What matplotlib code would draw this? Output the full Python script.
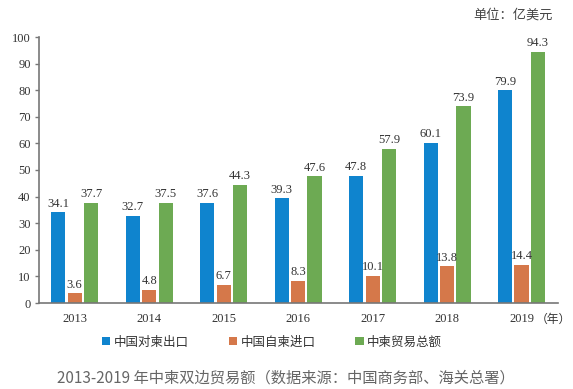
import matplotlib.pyplot as plt
import numpy as np

years = ['2013', '2014', '2015', '2016', '2017', '2018', '2019']
export_vals = [34.1, 32.7, 37.6, 39.3, 47.8, 60.1, 79.9]
import_vals = [3.6, 4.8, 6.7, 8.3, 10.1, 13.8, 14.4]
total_vals = [37.7, 37.5, 44.3, 47.6, 57.9, 73.9, 94.3]
series_names = ['中国对柬出口', '中国自柬进口', '中柬贸易总额']
colors = ['#0F84CE', '#D5784A', '#6DAA53']

cjk = ['Noto Sans CJK SC', 'DejaVu Sans']
serif = ['Liberation Serif', 'DejaVu Serif']

fig = plt.figure(figsize=(5.73, 3.89), dpi=100)
ax = fig.add_axes([39 / 573, 1 - 303 / 389, (558 - 39) / 573, (303 - 37) / 389])

x = np.arange(len(years))
width = 0.19
step = 0.22
bars = []
for i, vals in enumerate([export_vals, import_vals, total_vals]):
    b = ax.bar(x + (i - 1) * step, vals, width, color=colors[i], label=series_names[i])
    bars.append(b)
    for xi, v in zip(x, vals):
        ax.annotate(f'{v:.1f}', (xi + (i - 1) * step, v), xytext=(0, 2),
                    textcoords='offset points', ha='center', va='bottom',
                    fontsize=9, family=serif, color='#333333')

ax.set_xlim(-0.48, 6.49)
ax.set_ylim(0, 100)
ax.set_yticks(range(0, 101, 10))
ax.set_xticks(x)
ax.set_xticklabels(years)
for lab in ax.get_xticklabels() + ax.get_yticklabels():
    lab.set_family(serif)
    lab.set_fontsize(9)
    lab.set_color('#333333')
ax.tick_params(axis='x', length=0, pad=7)
ax.tick_params(axis='y', length=3, pad=3, color='#777777', width=1)
for s in ['top', 'right']:
    ax.spines[s].set_visible(False)
for s in ['left', 'bottom']:
    ax.spines[s].set_color('#777777')
    ax.spines[s].set_linewidth(1.2)

ax.annotate('（年）', (6, 0), xycoords=('data', 'axes fraction'), xytext=(10, -7),
            textcoords='offset points', ha='left', va='top', fontsize=8.5,
            family=cjk, color='#333333')

fig.text(553 / 573, 1 - 15 / 389, '单位：亿美元', ha='right', va='center',
         fontsize=9.5, family=cjk, color='#444444')

leg = fig.legend(handles=bars, labels=series_names, loc='center',
                 bbox_to_anchor=(272 / 573, 1 - 342 / 389), ncol=3, frameon=False,
                 prop={'family': cjk, 'size': 9}, handlelength=0.65, handleheight=0.65,
                 handletextpad=0.3, columnspacing=3.2)
for t in leg.get_texts():
    t.set_color('#333333')

fig.text(286 / 573, 1 - 378 / 389, '2013-2019 年中柬双边贸易额（数据来源：中国商务部、海关总署）',
         ha='center', va='center', fontsize=11, family=cjk, color='#666666')

fig.savefig('out.png', dpi=100)
